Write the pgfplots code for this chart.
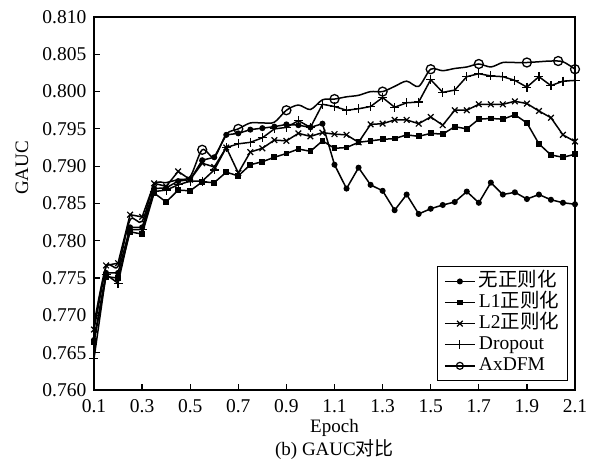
\documentclass[border=0pt]{standalone}
\usepackage{fontspec}
\setmainfont{Liberation Serif}
\newfontfamily\cjk{Noto Sans CJK SC}
\usepackage{pgfplots}
\pgfplotsset{compat=1.18}
\usepackage{pgfplotstable}

\pgfplotstableread{
x    s1     s2     s3     s4     s5
0.10 0.7667 0.7664 0.7681 0.7642 0.7688
0.15 0.7757 0.7752 0.7767 0.7755 0.7765
0.20 0.7757 0.7750 0.7770 0.7743 0.7766
0.25 0.7818 0.7812 0.7835 0.7815 0.7828
0.30 0.7818 0.7809 0.7832 0.7815 0.7826
0.35 0.7870 0.7864 0.7877 0.7866 0.7875
0.40 0.7871 0.7852 0.7873 0.7868 0.7878
0.45 0.7880 0.7868 0.7893 0.7875 0.7882
0.50 0.7882 0.7867 0.7882 0.7880 0.7886
0.55 0.7908 0.7879 0.7904 0.7880 0.7922
0.60 0.7912 0.7878 0.7899 0.7895 0.7912
0.65 0.7942 0.7892 0.7925 0.7925 0.7943
0.70 0.7944 0.7887 0.7891 0.7930 0.7950
0.75 0.7949 0.7902 0.7919 0.7932 0.7958
0.80 0.7951 0.7906 0.7924 0.7938 0.7958
0.85 0.7953 0.7912 0.7935 0.7950 0.7959
0.90 0.7956 0.7917 0.7934 0.7952 0.7975
0.95 0.7955 0.7923 0.7944 0.7961 0.7982
1.00 0.7952 0.7920 0.7940 0.7952 0.7976
1.05 0.7957 0.7934 0.7945 0.7983 0.7989
1.10 0.7902 0.7924 0.7943 0.7980 0.7990
1.15 0.7870 0.7925 0.7942 0.7975 0.7993
1.20 0.7898 0.7932 0.7932 0.7977 0.7995
1.25 0.7875 0.7934 0.7956 0.7980 0.8000
1.30 0.7867 0.7936 0.7957 0.7992 0.8000
1.35 0.7841 0.7937 0.7962 0.7979 0.8007
1.40 0.7862 0.7942 0.7962 0.7985 0.8014
1.45 0.7836 0.7940 0.7957 0.7986 0.8007
1.50 0.7843 0.7944 0.7966 0.8016 0.8030
1.55 0.7848 0.7943 0.7955 0.7999 0.8028
1.60 0.7852 0.7953 0.7975 0.8002 0.8031
1.65 0.7866 0.7950 0.7975 0.8020 0.8033
1.70 0.7851 0.7963 0.7983 0.8024 0.8037
1.75 0.7878 0.7964 0.7983 0.8021 0.8033
1.80 0.7862 0.7963 0.7983 0.8020 0.8039
1.85 0.7865 0.7969 0.7987 0.8015 0.8039
1.90 0.7856 0.7958 0.7984 0.8006 0.8039
1.95 0.7862 0.7930 0.7974 0.8020 0.8040
2.00 0.7855 0.7915 0.7965 0.8008 0.8041
2.05 0.7851 0.7912 0.7942 0.8014 0.8040
2.10 0.7849 0.7916 0.7933 0.8015 0.8030
}\data

\pgfplotstableread{
x    y
0.55 0.7922
0.70 0.7950
0.90 0.7975
1.10 0.7990
1.30 0.8000
1.50 0.8030
1.70 0.8037
1.90 0.8039
2.03 0.8041
2.10 0.8030
}\axmarks

\begin{document}
\begin{tikzpicture}[x=1pt,y=1pt]
\useasboundingbox (-94,-75) rectangle (495,390);
\begin{axis}[
  at={(0,0)}, anchor=south west,
  scale only axis, width=481pt, height=373pt,
  xmin=0.1, xmax=2.1, ymin=0.760, ymax=0.810,
  xtick={0.1,0.3,0.5,0.7,0.9,1.1,1.3,1.5,1.7,1.9,2.1},
  ytick={0.760,0.765,0.770,0.775,0.780,0.785,0.790,0.795,0.800,0.805,0.810},
  xticklabel style={inner sep=1pt, yshift=-8.5pt, /pgf/number format/.cd, fixed, fixed zerofill, precision=1, assume math mode=true},
  yticklabel style={inner sep=1pt, xshift=-6.5pt, /pgf/number format/.cd, fixed, fixed zerofill, precision=3, assume math mode=true},
  ticklabel style={font=\fontsize{19.5}{22}\selectfont},
  tick align=inside, major tick length=6pt,
  xtick pos=bottom, ytick pos=left,
  tick style={line width=1.2pt, black},
  axis line style={line width=1.8pt},
  scaled y ticks=false,
  xlabel={Epoch},
  xlabel style={font=\fontsize{19}{22}\selectfont, at={(rel axis cs:0.5,0)}, anchor=center, yshift=-38pt},
  ylabel={GAUC},
  ylabel style={font=\fontsize{19}{22}\selectfont, at={(axis description cs:-0.1497,0.595)}, anchor=center},
  legend style={at={(rel axis cs:1,0)}, anchor=south east, xshift=-7pt, yshift=9pt,
    draw=black, line width=1.2pt, font=\fontsize{19.5}{22}\selectfont,
    nodes={text height=14pt, text depth=4.5pt, inner sep=1.3pt}, inner xsep=7pt, inner ysep=4pt,
    /tikz/every odd column/.append style={column sep=2pt}},
  legend cell align=left,
  legend image code/.code={\draw[mark repeat=2, mark phase=2, #1] plot coordinates {(0pt,0pt) (15pt,0pt) (30pt,0pt)};},
  every axis plot/.append style={line width=1.5pt, black, mark options={solid, line width=1.2pt}},
  clip=false,
]
\addplot[mark=*, mark size=2.4pt] table[x=x,y=s1] {\data};
\addlegendentry{{\cjk 无正则化}\hspace{8pt}}
\addplot[mark=square*, mark size=2.3pt] table[x=x,y=s2] {\data};
\addlegendentry{L1{\cjk 正则化}}
\addplot[mark=x, mark size=4pt] table[x=x,y=s3] {\data};
\addlegendentry{L2{\cjk 正则化}}
\addplot[mark=+, mark size=4.5pt] table[x=x,y=s4] {\data};
\addlegendentry{Dropout}
\addplot[smooth, no markers, forget plot] table[x=x,y=s5] {\data};
\addplot[only marks, mark=o, mark size=4.5pt, mark options={fill=white, line width=1.3pt}, forget plot] table[x=x,y=y] {\axmarks};
\addlegendimage{line width=1.5pt, black, mark=o, mark size=3.5pt, mark options={solid, fill=white, line width=1.2pt}}
\addlegendentry{AxDFM}
\node[font=\fontsize{19}{22}\selectfont] at (rel axis cs:0.5,0) [yshift=-60pt] {(b) GAUC{\cjk 对比}};
\end{axis}
\end{tikzpicture}
\end{document}
